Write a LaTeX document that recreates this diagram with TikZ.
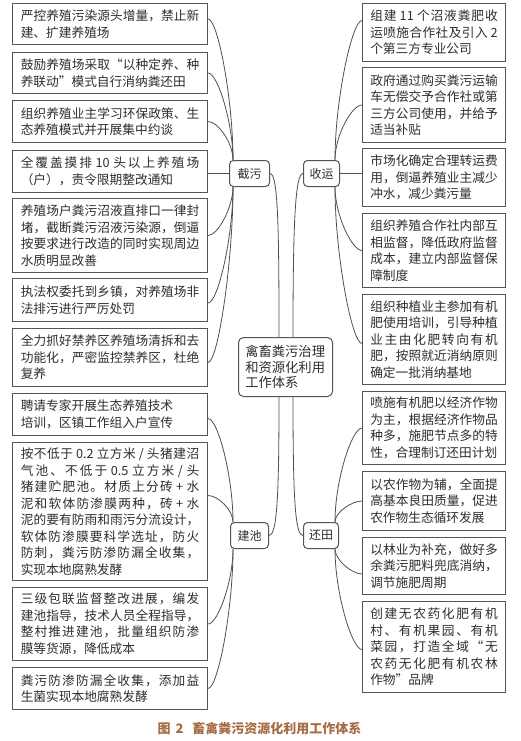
\documentclass[tikz,border=0pt]{standalone}
\usepackage{fontspec}
\setmainfont{Noto Sans CJK SC}
\XeTeXinterchartokenstate=1
\newcount\cjkcnt
\cjkcnt="4E00
\loop\XeTeXcharclass\cjkcnt=1 \advance\cjkcnt by 1 \ifnum\cjkcnt<"A000 \repeat
\XeTeXcharclass"FF0C=3 \XeTeXcharclass"3001=3 \XeTeXcharclass"3002=3
\XeTeXcharclass"FF09=3 \XeTeXcharclass"201D=3
\XeTeXcharclass"FF08=2 \XeTeXcharclass"201C=2
\newcommand\cjkglue{\nobreak\hskip0pt plus 0.3em\relax}
\XeTeXinterchartoks 1 1 = {\cjkglue}
\XeTeXinterchartoks 1 2 = {\cjkglue}
\XeTeXinterchartoks 1 3 = {\cjkglue}
\XeTeXinterchartoks 2 1 = {\cjkglue}
\XeTeXinterchartoks 3 1 = {\cjkglue}
\XeTeXinterchartoks 3 2 = {\cjkglue}
\XeTeXinterchartoks 3 3 = {\cjkglue}
\XeTeXinterchartoks 2 2 = {\cjkglue}
\definecolor{txt}{HTML}{2E2E2E}
\definecolor{bord}{HTML}{555555}
\definecolor{lin}{HTML}{505050}
\definecolor{capc}{HTML}{A86C45}
\tikzset{
  lbox/.style={draw=bord, line width=1pt, fill=white, text=txt, anchor=north west,
    minimum width=195pt, text width=178.5pt, inner xsep=8.25pt, inner ysep=0pt,
    align=justify, font=\fontsize{12.7}{16.5}\selectfont},
  rbox/.style={lbox, minimum width=143pt, text width=127.5pt, inner xsep=7.75pt},
  hub/.style={draw=bord, line width=1pt, fill=white, text=txt, rounded corners=4pt,
    anchor=north west, inner sep=0pt, minimum height=26pt,
    font=\fontsize{12}{14}\selectfont},
  cbox/.style={draw=bord, line width=1pt, fill=white, text=txt, rounded corners=5pt,
    anchor=north west, minimum width=94pt, minimum height=59pt, text width=80.5pt,
    inner xsep=6.75pt, inner ysep=0pt, align=left,
    font=\fontsize{13.3}{15.8}\selectfont},
  conn/.style={draw=lin, line width=0.8pt},
}
\begin{document}
\begin{tikzpicture}[x=1pt,y=-1pt]
\fill[white] (0,0) rectangle (520,741);
\useasboundingbox (0,0) rectangle (520,741);
% left boxes
\node[lbox, minimum height=41pt] (b1) at (12,3) {严控养殖污染源头增量，禁止新\linebreak 建、扩建养殖场};
\node[lbox, minimum height=41pt] (b2) at (12,52) {鼓励养殖场采取“以种定养、种\linebreak 养联动”模式自行消纳粪还田};
\node[lbox, minimum height=42pt] (b3) at (12,100) {组织养殖业主学习环保政策、生\linebreak 态养殖模式并开展集中约谈};
\node[lbox, minimum height=42pt] (b4) at (12,150) {全覆盖摸排~10~头以上养殖场\linebreak （户），责令限期整改通知};
\node[lbox, minimum height=74pt] (b5) at (12,198) {养殖场户粪污沼液直排口一律封\linebreak 堵，截断粪污沼液污染源，倒逼\linebreak 按要求进行改造的同时实现周边\linebreak 水质明显改善};
\node[lbox, minimum height=43pt] (b6) at (12,278) {执法权委托到乡镇，对养殖场非\linebreak 法排污进行严厉处罚};
\node[lbox, minimum height=58pt] (b7) at (12,328) {全力抓好禁养区养殖场清拆和去\linebreak 功能化，严密监控禁养区，杜绝\linebreak 复养};
\node[lbox, minimum height=42pt] (b8) at (12,393) {聘请专家开展生态养殖技术\\培训，区镇工作组入户宣传};
\node[lbox, minimum height=138pt] (b9) at (12,442) {按不低于~0.2~立方米~/~头猪建沼\linebreak 气池、不低于~0.5~立方米~/~头\linebreak 猪建贮肥池。材质上分砖~+~水\linebreak 泥和软体防渗膜两种，砖~+~水\linebreak 泥的要有防雨和雨污分流设计，\linebreak 软体防渗膜要科学选址，防火\linebreak 防刺，粪污防渗防漏全收集，\linebreak 实现本地腐熟发酵};
\node[lbox, minimum height=73pt] (b10) at (12,587) {三级包联监督整改进展，编发\linebreak 建池指导，技术人员全程指导，\linebreak 整村推进建池，批量组织防渗\linebreak 膜等货源，降低成本};
\node[lbox, minimum height=42pt] (b11) at (12,667) {粪污防渗防漏全收集，添加益\linebreak 生菌实现本地腐熟发酵};
% right boxes
\node[rbox, minimum height=58pt] (r1) at (362,3) {组建~11~个沼液粪肥收\linebreak 运喷施合作社及引入~2\linebreak 个第三方专业公司};
\node[rbox, minimum height=75pt] (r2) at (362,67) {政府通过购买粪污运输\linebreak 车无偿交予合作社或第\linebreak 三方公司使用，并给予\linebreak 适当补贴};
\node[rbox, minimum height=58pt] (r3) at (362,148) {市场化确定合理转运费\linebreak 用，倒逼养殖业主减少\linebreak 冲水，减少粪污量};
\node[rbox, minimum height=74pt] (r4) at (362,213) {组织养殖合作社内部互\linebreak 相监督，降低政府监督\linebreak 成本，建立内部监督保\linebreak 障制度};
\node[rbox, minimum height=90pt] (r5) at (362,294) {组织种植业主参加有机\linebreak 肥使用培训，引导种植\linebreak 业主由化肥转向有机\linebreak 肥，按照就近消纳原则\linebreak 确定一批消纳基地};
\node[rbox, minimum height=73pt] (r6) at (362,391) {喷施有机肥以经济作物\linebreak 为主，根据经济作物品\linebreak 种多，施肥节点多的特\linebreak 性，合理制订还田计划};
\node[rbox, minimum height=59pt] (r7) at (362,471) {以农作物为辅，全面提\linebreak 高基本良田质量，促进\linebreak 农作物生态循环发展};
\node[rbox, minimum height=57pt] (r8) at (362,537) {以林业为补充，做好多\linebreak 余粪污肥料兜底消纳，\linebreak 调节施肥周期};
\node[rbox, minimum height=91pt] (r9) at (362,601) {创建无农药化肥有机\linebreak 村、有机果园、有机\linebreak 菜园，打造全域“无\linebreak 农药无化肥有机农林\linebreak 作物”品牌};
% hubs
\node[hub, minimum width=40pt] (jw) at (229,160) {截污};
\node[hub, minimum width=36pt] (sy) at (303,160) {收运};
\node[hub, minimum width=38pt] (jc) at (230,522) {建池};
\node[hub, minimum width=35pt] (ht) at (303,522) {还田};
\node[cbox] (c) at (238,337) {禽畜粪污治理\\和资源化利用\\工作体系};
% caption
\node[text=capc, font=\bfseries\fontsize{13}{15}\selectfont] (cap) at (259.5,729) {图\hspace{5pt}2\hspace{9pt}畜禽粪污资源化利用工作体系};
% anchor points
\coordinate (jwT) at ([xshift=4pt]jw.north west);
\coordinate (jwB) at ([xshift=4pt]jw.south west);
\coordinate (syT) at ([xshift=-5pt]sy.north east);
\coordinate (syB) at ([xshift=-5pt]sy.south east);
\coordinate (jcT) at ([xshift=3pt]jc.north west);
\coordinate (jcB) at ([xshift=3pt]jc.south west);
\coordinate (htT) at ([xshift=-4pt]ht.north east);
\coordinate (htB) at ([xshift=-4pt]ht.south east);
\coordinate (cTL) at ([xshift=41pt]c.north west);
\coordinate (cTR) at ([xshift=55pt]c.north west);
\coordinate (cBL) at ([xshift=41pt]c.south west);
\coordinate (cBR) at ([xshift=55pt]c.south west);
% 截污 connectors
\draw[conn] ([yshift=5pt]b1.east) .. controls +(10,0) and +(0,-60) .. (jwT);
\draw[conn] (b2.east) .. controls +(10,0) and +(0,-36) .. (jwT);
\draw[conn] (b3.east) .. controls +(10,0) and +(0,-17) .. (jwT);
\draw[conn] (jw.west) -- (jw.west -| b4.east);
\draw[conn] (b5.east) .. controls +(10,0) and +(0,20) .. (jwB);
\draw[conn] ([yshift=-3pt]b6.east) .. controls +(10,0) and +(0,50) .. (jwB);
\draw[conn] ([yshift=-5pt]b7.east) .. controls +(10,0) and +(0,75) .. (jwB);
% 建池 connectors
\draw[conn] ([yshift=-4pt]b8.east) .. controls +(10,0) and +(0,-45) .. (jcT);
\draw[conn] ([yshift=16pt]b9.east) .. controls +(10,0) and +(0,-12) .. (jcT);
\draw[conn] (b10.east) .. controls +(10,0) and +(0,32) .. (jcB);
\draw[conn] (b11.east) .. controls +(10,0) and +(0,60) .. (jcB);
% 收运 connectors
\draw[conn] ([yshift=12pt]r1.west) .. controls +(-10,0) and +(0,-60) .. (syT);
\draw[conn] (r2.west) .. controls +(-10,0) and +(0,-25) .. (syT);
\draw[conn] (sy.east) -- (sy.east -| r3.west);
\draw[conn] (r4.west) .. controls +(-10,0) and +(0,28) .. (syB);
\draw[conn] ([yshift=-4pt]r5.west) .. controls +(-10,0) and +(0,68) .. (syB);
% 还田 connectors
\draw[conn] (r6.west) .. controls +(-10,0) and +(0,-42) .. (htT);
\draw[conn] (r7.west) .. controls +(-10,0) and +(0,-10) .. (htT);
\draw[conn] ([yshift=-8pt]r8.west) .. controls +(-10,0) and +(0,11) .. (htB);
\draw[conn] ([yshift=-2.5pt]r9.west) .. controls +(-10,0) and +(0,44) .. (htB);
% center connectors
\draw[conn] (jw.east) .. controls +(8,0) and +(0,-110) .. (cTL);
\draw[conn] (sy.west) .. controls +(-8,0) and +(0,-110) .. (cTR);
\draw[conn] (jc.east) .. controls +(8,0) and +(0,100) .. (cBL);
\draw[conn] (ht.west) .. controls +(-8,0) and +(0,100) .. (cBR);
\end{tikzpicture}
\end{document}
